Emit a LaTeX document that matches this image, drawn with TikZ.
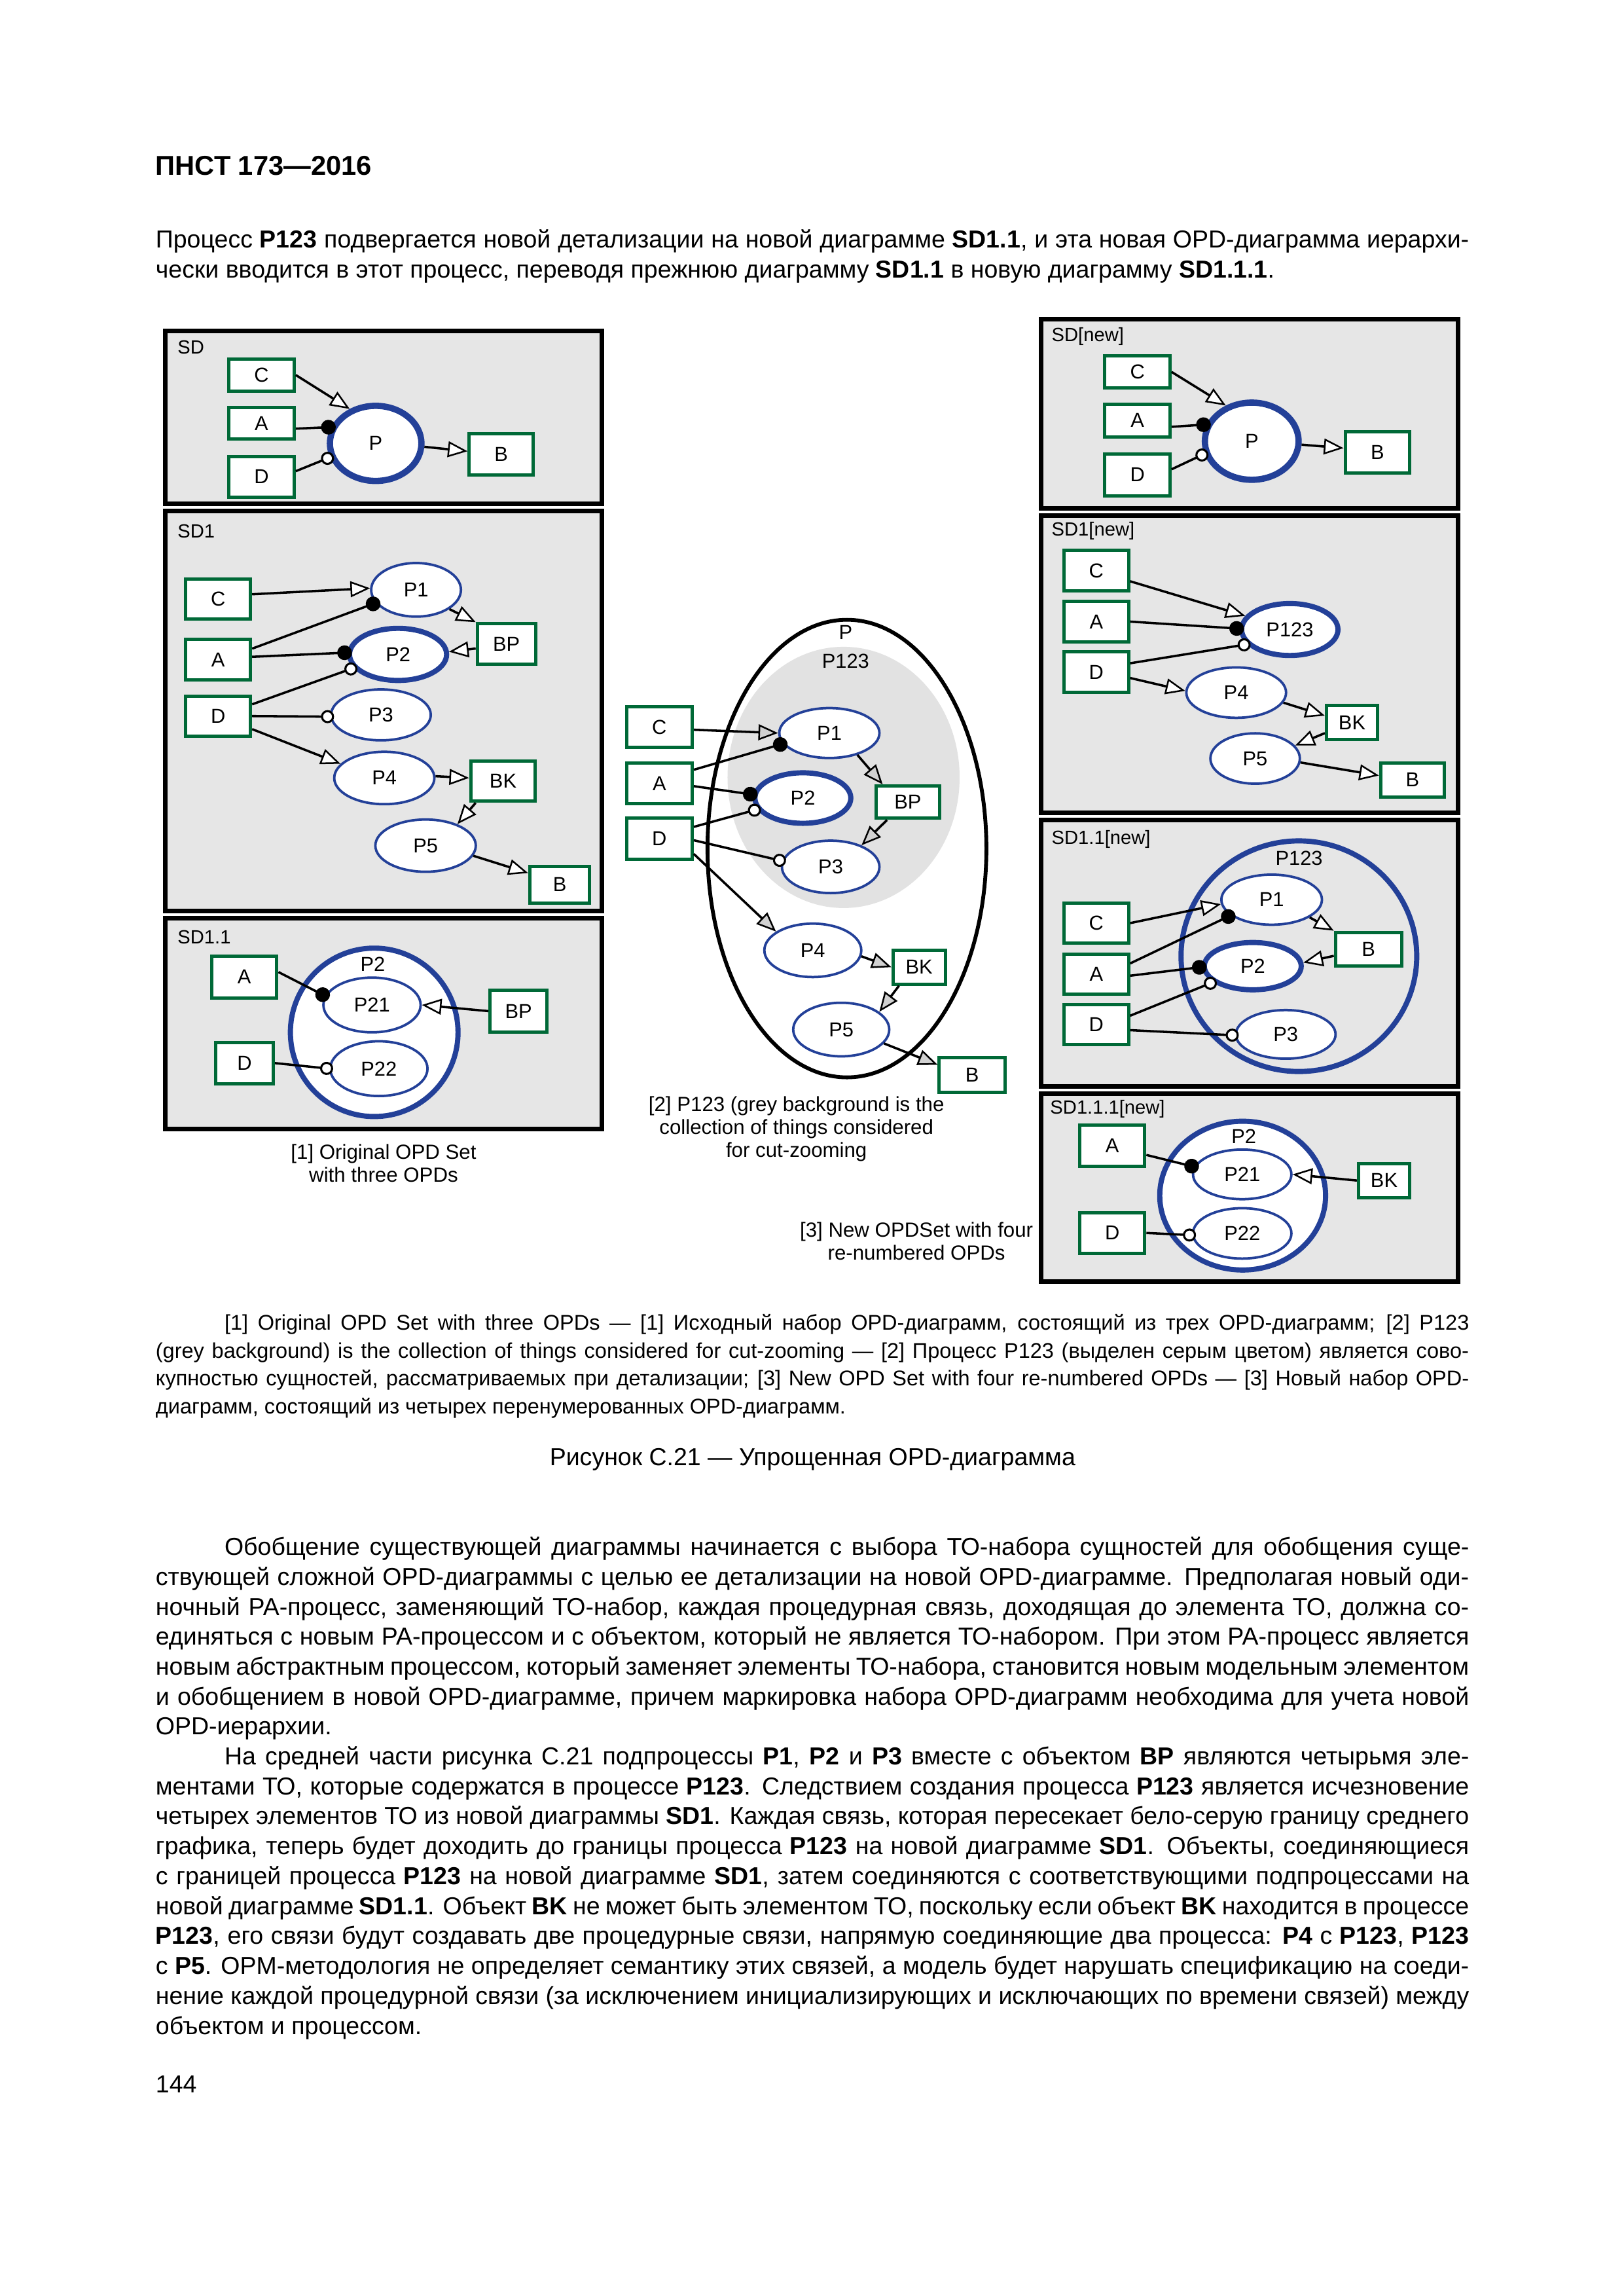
\documentclass[tikz,border=0pt]{standalone}
\usepackage{fontspec}
\setmainfont{Liberation Sans}
\usetikzlibrary{arrows.meta,shapes.geometric}
\definecolor{ogreen}{RGB}{0,105,55}
\definecolor{pblue}{RGB}{35,64,152}
\definecolor{panelgrey}{RGB}{230,230,230}
\definecolor{zoomgrey}{RGB}{226,226,226}
\newcommand{\spx}{0.53678pt}
\newcommand{\lblfont}{\fontsize{7.4}{8.5}\selectfont}
\newcommand{\jw}{481.5pt}
\newcommand{\jwi}{456.3pt}
\begin{document}
\begin{tikzpicture}[x=0.53678pt,y=-0.53678pt,
 panel/.style={draw=black, line width=1.7pt, fill=panelgrey},
 obj/.style 2 args={rectangle, draw=ogreen, line width=1.2pt, fill=white, inner sep=0pt, minimum width=#1*\spx, minimum height=#2*\spx, font=\lblfont},
 proc/.style 2 args={ellipse, draw=pblue, line width=0.9pt, fill=white, inner sep=0pt, minimum width=#1*\spx, minimum height=#2*\spx, font=\lblfont},
 heavy/.style={line width=1.9pt},
 plabel/.style={anchor=west, inner sep=0pt, font=\fontsize{7}{8}\selectfont},
 inlabel/.style={inner sep=0pt, font=\lblfont},
 capt/.style={align=center, inner sep=0pt, font=\fontsize{7.5}{8.3}\selectfont},
 conn/.style={draw=black, line width=0.85pt},
 effarrow/.style={conn, -{Triangle[length=7.2pt, width=5.8pt, fill=white, line width=0.6pt]}},
 meffarrow/.style={conn, -{Triangle[length=7.2pt, width=5.8pt, fill=black!18, line width=0.6pt]}},
 instlink/.style={conn, -{Circle[length=5.4pt]}, shorten >=-1.8pt},
 condlink/.style={conn, -{Circle[length=4.8pt, fill=white, line width=0.75pt]}, shorten >=-1.5pt},
 body/.style={anchor=base west, inner sep=0pt, font=\fontsize{9}{11}\selectfont},
 note/.style={anchor=base west, inner sep=0pt, font=\fontsize{7.8}{10}\selectfont}
]
\fill[white] (0,0) rectangle (1109,1568);
\useasboundingbox (0,0) rectangle (1109,1568);

% ---------- header and intro ----------
\node (hdr) [anchor=west, inner sep=0pt, font=\fontsize{10}{12}\selectfont\bfseries] at (106,113) {ПНСТ 173—2016};
\node (i1) [body] at (106,169) {\makebox[\jw][s]{Процесс \textbf{P123} подвергается новой детализации на новой диаграмме \textbf{SD1.1}, и эта новая OPD-диаграмма иерархи-}};
\node (i2) [body] at (106,190) {чески вводится в этот процесс, переводя прежнюю диаграмму \textbf{SD1.1} в новую диаграмму \textbf{SD1.1.1}.};

% ---------- left column panels ----------
\filldraw[panel] (113,226) rectangle (411,344);
\filldraw[panel] (113,349) rectangle (411,622);
\filldraw[panel] (113,627) rectangle (411,771);
% ---------- right column panels ----------
\filldraw[panel] (711,218) rectangle (996,347);
\filldraw[panel] (711,352) rectangle (996,555);
\filldraw[panel] (711,560) rectangle (996,742);
\filldraw[panel] (711,747) rectangle (996,875);

% ===== SD =====
\node (sdL) [plabel] at (121,237) {SD};
\node (sdC) [obj={44.6}{21.7}] at (178.6,256.1) {C};
\node (sdA) [obj={44.6}{21.5}] at (178.6,289.2) {A};
\node (sdD) [obj={44.6}{27.7}] at (178.6,325.5) {D};
\node (sdP) [proc={62.5}{51.3}, line width=2.3pt] at (256.6,302.8) {P};
\node (sdB) [obj={43.7}{28.1}] at (342.3,310.4) {B};
\draw[effarrow] (sdC.east) -- (sdP.127);
\draw[instlink] ([yshift=-1.9pt]sdA.east) -- (sdP.160);
\draw[condlink] ([yshift=2pt]sdD.east) -- (sdP.197);
\draw[effarrow] (sdP.-4) -- ([yshift=1.2pt]sdB.west);

% ===== SD1 =====
\node (s1L) [plabel] at (121,363) {SD1};
\node (s1C) [obj={44.2}{27.3}] at (149,409) {C};
\node (s1A) [obj={44.2}{27.7}] at (149,450.6) {A};
\node (s1D) [obj={44.2}{27.3}] at (149,489) {D};
\node (s1P1) [proc={61.3}{36.6}] at (284.2,402.8) {P1};
\node (s1P2) [proc={66.3}{35.6}, heavy] at (271.9,446.9) {P2};
\node (s1BP) [obj={39.7}{27.8}] at (345.9,439.9) {BP};
\node (s1P3) [proc={68.1}{34.8}] at (260.2,488.2) {P3};
\node (s1P4) [proc={68.4}{35.8}] at (262.5,531.3) {P4};
\node (s1BK) [obj={44.2}{27.4}] at (343.6,533.5) {BK};
\node (s1P5) [proc={68.6}{35.7}] at (290.7,577.5) {P5};
\node (s1B) [obj={40.9}{24.7}] at (382.3,604.2) {B};
\draw[effarrow] ([yshift=1.7pt]s1C.east) -- (s1P1.178);
\draw[instlink] ([yshift=4.1pt]s1A.east) -- (s1P1.198);
\draw[instlink] ([yshift=1.1pt]s1A.east) -- (s1P2.178);
\draw[condlink] ([yshift=4.3pt]s1D.east) -- (s1P2.197);
\draw[condlink] (s1D.east) -- (s1P3.182);
\draw[effarrow] ([yshift=-4.8pt]s1D.east) -- (s1P4.162);
\draw[effarrow] (s1P1.-30) -- (s1BP.north west);
\draw[effarrow] ([yshift=-1.6pt]s1BP.west) -- (s1P2.3);
\draw[effarrow] (s1P4.2) -- ([yshift=1.2pt]s1BK.west);
\draw[effarrow] ([xshift=2.4pt]s1BK.south west) -- (s1P5.34);
\draw[effarrow] (s1P5.-12) -- ([yshift=4.3pt]s1B.west);

% ===== SD1.1 =====
\node (s11L) [plabel] at (121,640) {SD1.1};
\node (s11A) [obj={44.6}{28.5}] at (166.8,667.2) {A};
\node (s11D) [obj={39.3}{28.3}] at (167,726) {D};
\node (s11P2) [proc={114.5}{115}, heavy] at (255.6,705) {};
\node (s11P2L) [inlabel] at (254.6,658.5) {P2};
\node (s11P21) [proc={66.4}{37.4}] at (254.1,686.3) {P21};
\node (s11P22) [proc={66.4}{37.4}] at (258.8,729.8) {P22};
\node (s11BP) [obj={39}{28.5}] at (354.2,690.5) {BP};
\draw[instlink] ([yshift=1.8pt]s11A.east) -- (s11P21.169);
\draw[condlink] (s11D.east) -- (s11P22.180);
\draw[effarrow] (s11BP.west) -- (s11P21.0);
\node (cap1) [capt] at (262,794.5) {[1] Original OPD Set\\with three OPDs};

% ===== middle =====
\node (mgrey) [ellipse, fill=zoomgrey, inner sep=0pt, minimum width=158.5*\spx, minimum height=178.4*\spx] at (576.2,530.9) {};
\node (mPbig) [ellipse, draw=black, line width=1.4pt, inner sep=0pt, minimum width=190.5*\spx, minimum height=312.5*\spx] at (578.5,579.5) {};
\node (mPL) [inlabel] at (577.6,431.8) {P};
\node (mP123L) [inlabel] at (577.6,451.5) {P123};
\node (mC) [obj={44.7}{27.7}] at (450.4,496.5) {C};
\node (mA) [obj={44.7}{28}] at (450.4,535) {A};
\node (mD) [obj={44.7}{27.8}] at (450.4,572.7) {D};
\node (mP1) [proc={68.4}{34.1}] at (566.5,500.6) {P1};
\node (mP2) [proc={65.5}{34.5}, heavy] at (548.4,545) {P2};
\node (mBP) [obj={43}{22.1}] at (620.1,547.8) {BP};
\node (mP3) [proc={66.6}{35.8}] at (567.4,592) {P3};
\node (mP4) [proc={66.2}{36.5}] at (555.2,649) {P4};
\node (mBK) [obj={35.7}{23.1}] at (627.8,660.5) {BK};
\node (mP5) [proc={65.6}{36.6}] at (574.6,703.1) {P5};
\node (mB) [obj={44.9}{23.4}] at (664,734.2) {B};
\draw[meffarrow] ([yshift=-1pt]mC.east) -- (mP1.180);
\draw[instlink] ([yshift=5pt]mA.east) -- (mP1.193);
\draw[instlink] ([yshift=-1pt]mA.east) -- (mP2.176);
\draw[condlink] ([yshift=4.3pt]mD.east) -- (mP2.194);
\draw[condlink] ([yshift=-0.6pt]mD.east) -- (mP3.173);
\draw[meffarrow] ([yshift=-5.6pt]mD.east) -- (mP4.153);
\draw[meffarrow] (mP1.-38) -- ([xshift=2.9pt]mBP.north west);
\draw[meffarrow] ([xshift=4.5pt]mBP.south west) -- (mP3.35);
\draw[meffarrow] (mP4.-7) -- (mBK.west);
\draw[meffarrow] ([xshift=2.8pt]mBK.south west) -- (mP5.25);
\draw[meffarrow] (mP5.-18) -- ([yshift=3.8pt]mB.west);
\node (cap2) [capt, font=\fontsize{7.5}{8.45}\selectfont] at (544,771) {[2] P123 (grey background is the\\collection of things considered\\for cut-zooming};

% ===== SD[new] =====
\node (nL) [plabel] at (718,230) {SD[new]};
\node (nC) [obj={44.5}{22}] at (776.9,254) {C};
\node (nA) [obj={44.5}{22.5}] at (776.9,287.2) {A};
\node (nD) [obj={44.5}{28.7}] at (776.9,324.2) {D};
\node (nP) [proc={64}{52.7}, line width=2.3pt] at (855,301.3) {P};
\node (nB) [obj={44.2}{28.3}] at (940.9,309) {B};
\draw[effarrow] (nC.east) -- (nP.126);
\draw[instlink] ([yshift=-2.3pt]nA.east) -- (nP.160);
\draw[condlink] ([yshift=2pt]nD.east) -- (nP.195);
\draw[effarrow] (nP.-4) -- ([yshift=1.6pt]nB.west);

% ===== SD1[new] =====
\node (n1L) [plabel] at (718,362.4) {SD1[new]};
\node (n1C) [obj={44.1}{27.7}] at (748.8,389.7) {C};
\node (n1A) [obj={44.1}{27.7}] at (748.8,424.5) {A};
\node (n1D) [obj={44.1}{27.8}] at (748.8,459.1) {D};
\node (n1P123) [proc={65.8}{35.5}, heavy] at (881,429.9) {P123};
\node (n1P4) [proc={68.1}{34.4}] at (844.4,473) {P4};
\node (n1BK) [obj={34.9}{23.6}] at (923.5,493.4) {BK};
\node (n1P5) [proc={61.1}{34.4}] at (857.3,518) {P5};
\node (n1B) [obj={43.6}{23.3}] at (964.8,532.6) {B};
\draw[effarrow] ([yshift=-3.9pt]n1C.east) -- (n1P123.163);
\draw[instlink] (n1A.east) -- (n1P123.179);
\draw[condlink] ([yshift=3.3pt]n1D.east) -- (n1P123.199);
\draw[effarrow] ([yshift=-2.1pt]n1D.east) -- (n1P4.178);
\draw[effarrow] (n1P4.-12) -- ([yshift=2.5pt]n1BK.west);
\draw[effarrow] ([yshift=-3.9pt]n1BK.west) -- (n1P5.18);
\draw[effarrow] (n1P5.-5) -- ([yshift=1.6pt]n1B.west);

% ===== SD1.1[new] =====
\node (n11L) [plabel] at (718,573.2) {SD1.1[new]};
\node (n11P123) [proc={161}{157.5}, heavy, fill=panelgrey] at (887.2,653) {};
\node (n11P123L) [inlabel] at (887.3,586.3) {P123};
\node (n11P1) [proc={68.7}{34.2}] at (868.6,614.4) {P1};
\node (n11P2) [proc={66.2}{32.3}, heavy] at (855.7,659.8) {P2};
\node (n11P3) [proc={68.1}{33.2}] at (878.2,706.4) {P3};
\node (n11B) [obj={45.1}{23.2}] at (934.7,648.3) {B};
\node (n11C) [obj={44.1}{27.2}] at (748.8,630.4) {C};
\node (n11A) [obj={44.1}{27.3}] at (748.8,665.2) {A};
\node (n11D) [obj={44.1}{27.2}] at (748.8,699.6) {D};
\draw[effarrow] (n11C.east) -- (n11P1.185);
\draw[instlink] ([yshift=3.9pt]n11A.east) -- (n11P1.201);
\draw[instlink] ([yshift=-0.6pt]n11A.east) -- (n11P2.181);
\draw[condlink] ([yshift=3.2pt]n11D.east) -- (n11P2.202);
\draw[condlink] ([yshift=-2.1pt]n11D.east) -- (n11P3.181);
\draw[effarrow] (n11P1.-25) -- (n11B.north west);
\draw[effarrow] ([yshift=-2.4pt]n11B.west) -- (n11P2.4);

% ===== SD1.1.1[new] =====
\node (n111L) [plabel] at (717,757.4) {SD1.1.1[new]};
\node (n111A) [obj={44.4}{27.9}] at (759.7,782.4) {A};
\node (n111D) [obj={44.4}{27.9}] at (759.7,842) {D};
\node (n111P2) [proc={113.3}{101.6}, heavy] at (848.8,816.5) {};
\node (n111P2L) [inlabel] at (849.6,775.9) {P2};
\node (n111P21) [proc={67.2}{33.9}] at (848.5,802) {P21};
\node (n111P22) [proc={67.2}{34.4}] at (848.5,842.3) {P22};
\node (n111BK) [obj={35}{23.2}] at (945.4,806.2) {BK};
\draw[instlink] ([yshift=-3.4pt]n111A.east) -- (n111P21.171);
\draw[condlink] (n111D.east) -- (n111P22.182);
\draw[effarrow] (n111BK.west) -- (n111P21.0);
\node (cap3) [capt] at (626,847.5) {[3] New OPDSet with four\\re-numbered OPDs};

% ---------- notes ----------
\node (nt1) [note] at (153,908.5) {\makebox[\jwi][s]{[1] Original OPD Set with three OPDs — [1] Исходный набор OPD-диаграмм, состоящий из трех OPD-диаграмм; [2] P123}};
\node (nt2) [note] at (106,927.5) {\makebox[\jw][s]{(grey background) is the collection of things considered for cut-zooming — [2] Процесс P123 (выделен серым цветом) является сово-}};
\node (nt3) [note] at (106,946.5) {\makebox[\jw][s]{купностью сущностей, рассматриваемых при детализации; [3] New OPD Set with four re-numbered OPDs — [3] Новый набор OPD-}};
\node (nt4) [note] at (106,965.5) {диаграмм, состоящий из четырех перенумерованных OPD-диаграмм.};
\node (ftitle) [anchor=base, inner sep=0pt, font=\fontsize{9}{11}\selectfont] at (555,1001) {Рисунок С.21 — Упрощенная OPD-диаграмма};

% ---------- body ----------
\node (b1) [body] at (153,1062) {\makebox[\jwi][s]{Обобщение существующей диаграммы начинается с выбора ТО-набора сущностей для обобщения суще-}};
\node (b2) [body] at (106,1082.5) {\makebox[\jw][s]{ствующей сложной OPD-диаграммы с целью ее детализации на новой OPD-диаграмме. Предполагая новый оди-}};
\node (b3) [body] at (106,1103) {\makebox[\jw][s]{ночный PA-процесс, заменяющий ТО-набор, каждая процедурная связь, доходящая до элемента ТО, должна со-}};
\node (b4) [body] at (106,1123.4) {\makebox[\jw][s]{единяться с новым PA-процессом и с объектом, который не является ТО-набором. При этом PA-процесс является}};
\node (b5) [body] at (106,1143.8) {\makebox[\jw][s]{новым абстрактным процессом, который заменяет элементы ТО-набора, становится новым модельным элементом}};
\node (b6) [body] at (106,1164.3) {\makebox[\jw][s]{и обобщением в новой OPD-диаграмме, причем маркировка набора OPD-диаграмм необходима для учета новой}};
\node (b7) [body] at (106,1184.7) {OPD-иерархии.};
\node (c1) [body] at (153,1205.2) {\makebox[\jwi][s]{На средней части рисунка С.21 подпроцессы \textbf{P1}, \textbf{P2} и \textbf{P3} вместе с объектом \textbf{BP} являются четырьмя эле-}};
\node (c2) [body] at (106,1225.6) {\makebox[\jw][s]{ментами ТО, которые содержатся в процессе \textbf{P123}. Следствием создания процесса \textbf{P123} является исчезновение}};
\node (c3) [body] at (106,1246) {\makebox[\jw][s]{четырех элементов ТО из новой диаграммы \textbf{SD1}. Каждая связь, которая пересекает бело-серую границу среднего}};
\node (c4) [body] at (106,1266.5) {\makebox[\jw][s]{графика, теперь будет доходить до границы процесса \textbf{P123} на новой диаграмме \textbf{SD1}. Объекты, соединяющиеся}};
\node (c5) [body] at (106,1287) {\makebox[\jw][s]{с границей процесса \textbf{P123} на новой диаграмме \textbf{SD1}, затем соединяются с соответствующими подпроцессами на}};
\node (c6) [body] at (106,1307.4) {\makebox[\jw][s]{новой диаграмме \textbf{SD1.1}. Объект \textbf{BK} не может быть элементом ТО, поскольку если объект \textbf{BK} находится в процессе}};
\node (c7) [body] at (106,1327.8) {\makebox[\jw][s]{\textbf{P123}, его связи будут создавать две процедурные связи, напрямую соединяющие два процесса: \textbf{P4} с \textbf{P123}, \textbf{P123}}};
\node (c8) [body] at (106,1348.3) {\makebox[\jw][s]{с \textbf{P5}. OPM-методология не определяет семантику этих связей, а модель будет нарушать спецификацию на соеди-}};
\node (c9) [body] at (106,1368.7) {\makebox[\jw][s]{нение каждой процедурной связи (за исключением инициализирующих и исключающих по времени связей) между}};
\node (c10) [body] at (106,1389.2) {объектом и процессом.};
\node (pg) [body] at (106,1429) {144};
\end{tikzpicture}
\end{document}
